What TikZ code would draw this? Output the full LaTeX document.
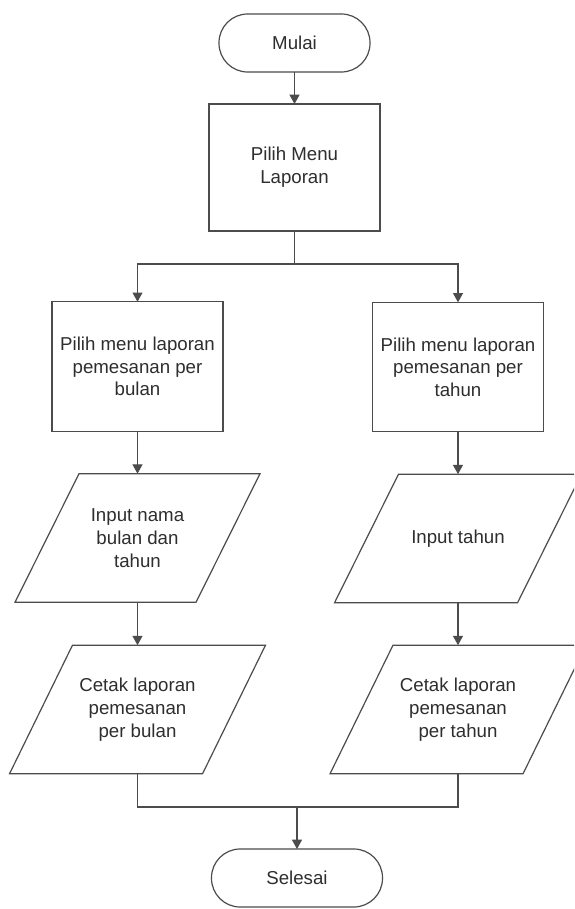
\documentclass[tikz,border=0pt]{standalone}
\usepackage{fontspec}
\setmainfont{Liberation Sans}
\usetikzlibrary{arrows.meta,calc}
\definecolor{linegray}{HTML}{4C4C4C}
\definecolor{txtgray}{HTML}{2E2E2E}
\newcommand\drawpara[2]{\draw[line] (#1.south west) -- ($(#1.north west)+(#2,0)$) -- (#1.north east) -- ($(#1.south east)-(#2,0)$) -- cycle;}
\begin{document}
\begin{tikzpicture}[x=0.75pt,y=-0.75pt,
  line/.style={draw=linegray,line width=0.9pt},
  arr/.style={line,-{Triangle[length=7pt,width=7.5pt]}},
  txt/.style={inner sep=0pt,outer sep=0pt,align=center,text=txtgray,font=\fontsize{14}{17}\selectfont},
  term/.style={txt,line,rounded corners=21.5pt,minimum height=43.5pt},
  proc/.style={txt,line},
  io/.style={txt,minimum height=96.5pt}]
\useasboundingbox (0,0) rectangle (574,909);
\clip (0,0) rectangle (574,909);
\fill[white] (0,0) rectangle (574,909);

\node[term,minimum width=113.25pt] (mulai) at (294.5,43) {Mulai};
\node[proc,minimum width=128.25pt,minimum height=95.25pt] (menu) at (294.5,167.5) {Pilih Menu\\Laporan};

\node[proc,minimum width=128.25pt,minimum height=97pt] (b1) at (137.5,366.5) {Pilih menu laporan\\pemesanan per\\bulan};
\node[proc,minimum width=128.25pt,minimum height=97pt] (b2) at (458,367) {Pilih menu laporan\\pemesanan per\\tahun};

\node[io,minimum width=183.75pt] (p1) at (137.5,538) {Input nama\\bulan dan\\tahun};
\node[io,minimum width=185.25pt] (p2) at (458,538.5) {Input tahun};
\drawpara{p1}{64}
\drawpara{p2}{64}

\node[io,minimum width=192pt] (q1) at (137.5,709.5) {Cetak laporan\\pemesanan\\per bulan};
\node[io,minimum width=192pt] (q2) at (458,709.5) {Cetak laporan\\pemesanan\\per tahun};
\drawpara{q1}{63}
\drawpara{q2}{63}

\node[term,minimum width=128.25pt] (selesai) at (297,878) {Selesai};

\coordinate (j1) at (294.5,264);
\coordinate (jl) at (137.5,807);
\coordinate (jr) at (458,807);
\coordinate (jm) at (297,807);

\draw[arr] (mulai) -- (menu);
\draw[line] (menu.south) -- (j1);
\draw[arr] (j1) -| (b1.north);
\draw[arr] (j1) -| (b2.north);
\draw[arr] (b1) -- (p1);
\draw[arr] (b2) -- (p2);
\draw[arr] (p1) -- (q1);
\draw[arr] (p2) -- (q2);
\draw[line] (q1.south) -- (jl) -- (jr) -- (q2.south);
\draw[arr] (jm) -- (selesai);
\end{tikzpicture}
\end{document}
